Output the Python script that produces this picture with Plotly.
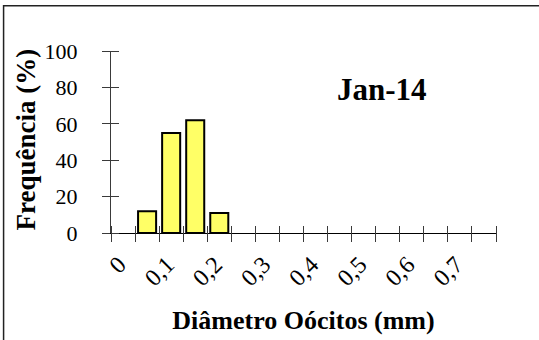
import plotly.graph_objects as go

# Data
categories = ["0", "0,05", "0,1", "0,15", "0,2", "0,25", "0,3", "0,35",
              "0,4", "0,45", "0,5", "0,55", "0,6", "0,65", "0,7", "0,75"]
frequencia = [0, 12, 55, 62, 11, 0, 0, 0, 0, 0, 0, 0, 0, 0, 0, 0]
y_ticks = [0, 20, 40, 60, 80, 100]
panel_label = "Jan-14"
x_title = "Diâmetro Oócitos (mm)"
y_title = "Frequência (%)"

FONT = "Liberation Serif"
AXC = "#3a3a3a"
n = len(categories)
PLOT_W, PLOT_H = 385, 182  # plot area size in px (539-111-43, 340-51-107)

fig = go.Figure()
fig.add_trace(go.Bar(
    x=categories, y=frequencia,
    marker=dict(color="#FFFF66",
                line=dict(color="black", width=[2 if v > 0 else 0 for v in frequencia])),
    width=0.75, showlegend=False, hoverinfo="x+y",
))

# Invisible helper trace activating the overlay axes that draw the crossing tick marks
fig.add_trace(go.Scatter(x=[0], y=[0], xaxis="x2", yaxis="y2", mode="markers",
                         marker=dict(opacity=0), showlegend=False, hoverinfo="skip"))

rng_x = [-0.5, n - 0.5]
fig.update_layout(
    template="none",
    width=539, height=340,
    margin=dict(l=111, r=43, t=51, b=107),
    paper_bgcolor="white", plot_bgcolor="rgba(0,0,0,0)",
    font=dict(family=FONT, color="black"),
    xaxis=dict(
        type="category", categoryorder="array", categoryarray=categories,
        range=rng_x, tickmode="linear", tick0=0, dtick=2,
        tickangle=-45, ticks="", showgrid=False, zeroline=False,
        showline=True, linecolor="black", linewidth=1, automargin=False,
        tickfont=dict(size=24, family=FONT), ticklabelstandoff=7, ticklabelshift=-4,
        title=dict(text="<b>" + x_title + "</b>", font=dict(size=26, family=FONT),
                   standoff=20),
    ),
    yaxis=dict(
        range=[0, 100], tickmode="array", tickvals=y_ticks, automargin=False,
        ticks="outside", ticklen=8, tickcolor=AXC, tickwidth=1,
        showgrid=False, zeroline=False, showline=True, linecolor=AXC, linewidth=1,
        tickfont=dict(size=22, family=FONT), ticklabelstandoff=20,
    ),
    xaxis2=dict(overlaying="x", anchor="free", position=8 / PLOT_H, side="bottom",
                type="linear", range=rng_x, tickmode="linear", tick0=-0.5, dtick=1,
                ticks="outside", ticklen=16, tickcolor=AXC, tickwidth=1,
                showticklabels=False, showgrid=False, zeroline=False, showline=False),
    yaxis2=dict(overlaying="y", anchor="free", position=7.5 / PLOT_W, side="left",
                range=[0, 100], tickmode="array", tickvals=y_ticks,
                ticks="outside", ticklen=7.5, tickcolor=AXC, tickwidth=1,
                showticklabels=False, showgrid=False, zeroline=False, showline=False),
    bargap=0.25,
    shapes=[dict(type="rect", xref="paper", yref="paper",
                 x0=-0.279, x1=1.2, y0=-0.8, y1=1.249,
                 line=dict(color="#222222", width=1.5), layer="below")],
    annotations=[
        dict(text="<b>" + panel_label + "</b>", xref="paper", yref="paper",
             x=0.704, y=0.786, xanchor="center", yanchor="middle",
             showarrow=False, font=dict(size=31, family=FONT)),
        dict(text="<b>" + y_title + "</b>", xref="paper", yref="paper",
             x=-0.222, y=0.511, xanchor="center", yanchor="middle", textangle=-90,
             showarrow=False, font=dict(size=27, family=FONT)),
    ],
)

fig.write_html("out.html", config={"displayModeBar": False},
               post_script="document.body.style.margin='0';document.body.style.padding='0';")
